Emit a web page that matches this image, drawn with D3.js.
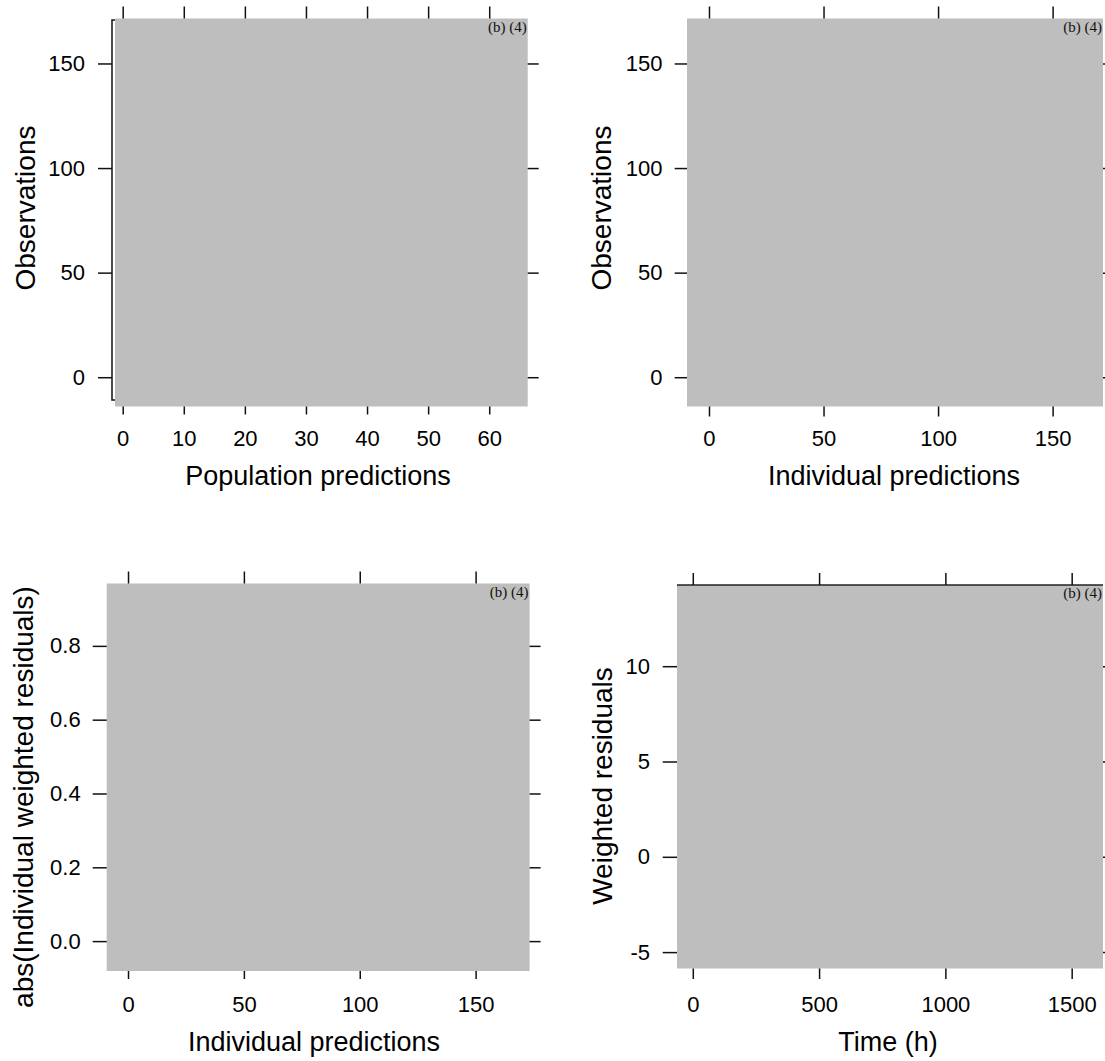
<!DOCTYPE html>
<html>
<head>
<meta charset="utf-8">
<script src="https://cdn.jsdelivr.net/npm/d3@7.9.0/dist/d3.min.js"></script>
<style>
    html, body { margin: 0; padding: 0; background: #fff; }
    svg { display: block; font-family: "Liberation Sans", Arial, sans-serif; }
</style>
</head>
<body>
<div id="chart"></div>
<script>
// axis titles
const xTitles = ['Population predictions', 'Individual predictions', 'Individual predictions', 'Time (h)'];
const yTitles = ['Observations', 'Observations', 'abs(Individual weighted residuals)', 'Weighted residuals'];

// tick values
const xTicks = [
    [0, 10, 20, 30, 40, 50, 60],
    [0, 50, 100, 150],
    [0, 50, 100, 150],
    [0, 500, 1000, 1500],
];
const yTicks = [
    [0, 50, 100, 150],
    [0, 50, 100, 150],
    [0, 0.2, 0.4, 0.6, 0.8],
    [-5, 0, 5, 10],
];

// axis ranges
const xDomains = [[-1.26, 66.3], [-9.6, 172], [-9.2, 173.3], [-62.5, 1624]];
const yDomains = [[-14, 171.5], [-14, 171.5], [-0.081, 0.969], [-5.86, 14.26]];
const yDecimals = [0, 0, 1, 0];

const stripLabel = '(b) (4)';

// R prints a plain hyphen for negatives
const fmt = (digits) => (d) => d.toFixed(digits);

// layout of each panel (grey region, tick sizes, title spots)
const layout = [
    { x0: 115, x1: 527.7, y0: 18.5, y1: 406.5, leftAt: 112, leftTick: 14, leftPad: 13,
      bottomTick: 8, bottomPad: 16, xTitleX: 318, xTitleY: 485, yTitleX: 35, yTitleY: 208, bracket: true },
    { x0: 687, x1: 1103, y0: 18.5, y1: 406.5, leftAt: 687, leftTick: 12.3, leftPad: 12.2,
      bottomTick: 10, bottomPad: 14, xTitleX: 894, xTitleY: 485, yTitleX: 611, yTitleY: 208 },
    { x0: 106.7, x1: 529.6, y0: 583.5, y1: 971, leftAt: 106.7, leftTick: 14, leftPad: 12,
      bottomTick: 8, bottomPad: 17, xTitleX: 314, xTitleY: 1051, yTitleX: 33, yTitleY: 797 },
    { x0: 677, x1: 1103, y0: 585, y1: 968.5, leftAt: 677, leftTick: 14.3, leftPad: 12.7,
      bottomTick: 10.5, bottomPad: 17.5, xTitleX: 888, xTitleY: 1051, yTitleX: 612, yTitleY: 786, topLine: true },
];

const width = 1105;
const height = 1061;

const svg = d3.select('#chart')
    .append('svg')
    .attr('width', width)
    .attr('height', height);

function styleAxis(g) {
    g.select('.domain').remove();
    g.selectAll('.tick line').attr('stroke', '#111').attr('stroke-width', 1.5);
    g.selectAll('.tick text')
        .attr('fill', '#000')
        .style('font-size', '22px')
        .style('font-family', '"Liberation Sans", Arial, sans-serif');
}

layout.forEach((p, i) => {
    const xScale = d3.scaleLinear().domain(xDomains[i]).range([p.x0, p.x1]);
    const yScale = d3.scaleLinear().domain(yDomains[i]).range([p.y1, p.y0]);

    const panel = svg.append('g').attr('class', 'panel');

    // grey panel
    panel.append('rect')
        .attr('x', xScale.range()[0])
        .attr('y', yScale.range()[1])
        .attr('width', xScale.range()[1] - xScale.range()[0])
        .attr('height', yScale.range()[0] - yScale.range()[1])
        .attr('fill', '#bebebe');

    if (p.bracket) {
        panel.append('path')
            .attr('d', `M${p.leftAt + 3},${p.y0 + 1.5}H${p.leftAt}V${p.y1 - 6.5}H${p.leftAt + 3}`)
            .attr('fill', 'none')
            .attr('stroke', '#111')
            .attr('stroke-width', 1.5);
    }
    if (p.topLine) {
        panel.append('line')
            .attr('x1', p.x0).attr('x2', p.x1)
            .attr('y1', p.y0).attr('y2', p.y0)
            .attr('stroke', '#222')
            .attr('stroke-width', 1.5);
    }

    // left axis with labels
    panel.append('g')
        .attr('transform', `translate(${p.leftAt},0)`)
        .call(d3.axisLeft(yScale).tickValues(yTicks[i]).tickFormat(fmt(yDecimals[i]))
            .tickSize(p.leftTick).tickPadding(p.leftPad))
        .call(styleAxis);

    // bottom axis with labels
    panel.append('g')
        .attr('transform', `translate(0,${p.y1})`)
        .call(d3.axisBottom(xScale).tickValues(xTicks[i]).tickFormat(fmt(0))
            .tickSize(p.bottomTick).tickPadding(p.bottomPad))
        .call(styleAxis);

    // top and right ticks without labels
    panel.append('g')
        .attr('transform', `translate(0,${p.y0})`)
        .call(d3.axisTop(xScale).tickValues(xTicks[i]).tickFormat('').tickSize(12))
        .call(styleAxis);

    panel.append('g')
        .attr('transform', `translate(${p.x1},0)`)
        .call(d3.axisRight(yScale).tickValues(yTicks[i]).tickFormat('').tickSize(11))
        .call(styleAxis);

    // strip text
    panel.append('text')
        .attr('x', p.x1 - 1)
        .attr('y', p.y0 + 13)
        .attr('text-anchor', 'end')
        .style('font-family', '"Liberation Serif", "Times New Roman", serif')
        .style('font-size', '15px')
        .attr('fill', '#111')
        .text(stripLabel);

    // axis titles
    panel.append('text')
        .attr('x', p.xTitleX)
        .attr('y', p.xTitleY)
        .attr('text-anchor', 'middle')
        .style('font-size', '27px')
        .attr('fill', '#000')
        .text(xTitles[i]);

    panel.append('text')
        .attr('transform', `translate(${p.yTitleX},${p.yTitleY}) rotate(-90)`)
        .attr('text-anchor', 'middle')
        .style('font-size', '28px')
        .attr('fill', '#000')
        .text(yTitles[i]);
});
</script>
</body>
</html>
